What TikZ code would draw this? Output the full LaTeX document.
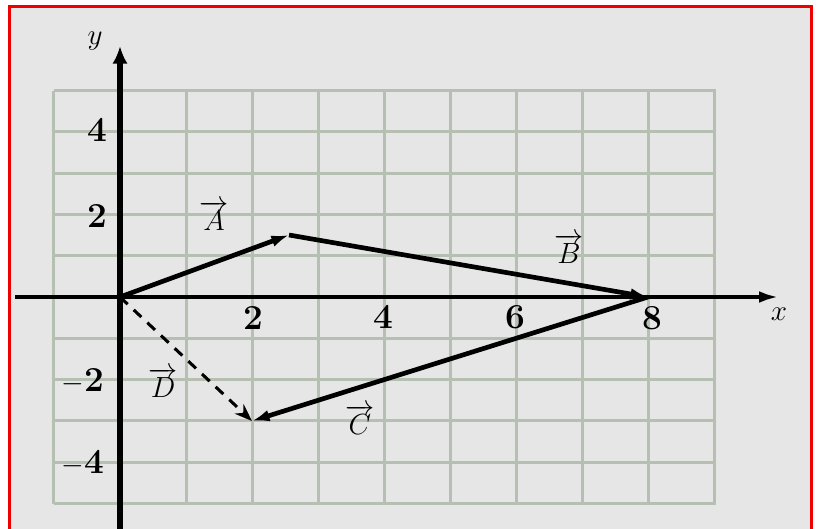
\documentclass[tikz,border=0pt]{standalone}
\usetikzlibrary{arrows.meta}
\definecolor{bgc}{HTML}{E6E6E6}
\definecolor{gridc}{HTML}{B5BFB2}
\definecolor{framec}{HTML}{EE0000}
\begin{document}
\begin{tikzpicture}[x=0.03cm,y=-0.03cm,
  gridline/.style={draw=gridc,line width=2.6pt},
  axisline/.style={draw=black},
  vecline/.style={draw=black,line width=4pt,-{Latex[length=15pt,width=10pt]}},
  dvec/.style={draw=black,line width=2.6pt,dash pattern=on 9pt off 7pt,-{Stealth[length=15pt,width=11pt]}},
  lbl/.style={inner sep=0pt,font=\fontsize{30}{34}\selectfont\bfseries},
  vlbl/.style={inner sep=0pt,font=\fontsize{30}{34}\selectfont}]
\useasboundingbox (0,0) rectangle (825,528);
% background and frame
\fill[white] (0,0) rectangle (825,528);
\fill[bgc] (8,5) rectangle (813,530);
\draw[framec,line width=2.6pt] (9.5,530) -- (9.5,6.5) -- (811.5,6.5) -- (811.5,530);
% grid
\foreach \i in {-1,...,9} {\draw[gridline] ({120+66.1*\i},90.5) -- ({120+66.1*\i},503.5);}
\foreach \j in {-5,...,5} {\draw[gridline] (54,{297-41.3*\j}) -- (716,{297-41.3*\j});}
% axes
\coordinate (xs) at (15,297);
\coordinate (xe) at (779,297);
\coordinate (ys) at (120,530);
\coordinate (ye) at (120,46);
\draw[axisline,line width=3.4pt,-{Latex[length=17pt,width=10pt]}] (xs) -- (xe);
\draw[axisline,line width=5pt,-{Latex[length=15pt,width=13pt]}] (ys) -- (ye);
% points
\coordinate (O) at (120,297);
\coordinate (P) at (289,235);
\coordinate (E) at (648,297);
\coordinate (F) at (252,421);
% vectors
\draw[vecline] (O) -- (P);
\draw[vecline] (P) -- (E);
\draw[vecline] (E) -- (F);
\draw[dvec] (O) -- (F);
% axis labels
\node[vlbl] (ylab) at (95,41) {$y$};
\node[vlbl] (xlab) at (779,314) {$x$};
\node[lbl] (y4) at (97,130) {4};
\node[lbl] (y2) at (97,216) {2};
\node[lbl] (ym2) at (83,381) {$\mathbf{-}$2};
\node[lbl] (ym4) at (83,463) {$\mathbf{-}$4};
\node[lbl] (x2) at (253,318) {2};
\node[lbl] (x4) at (383,317) {4};
\node[lbl] (x6) at (515,317) {6};
\node[lbl] (x8) at (652,318) {8};
% vector labels
\node[vlbl] (la) at (214,216) {$\overrightarrow{A}$};
\node[vlbl] (lb) at (569,249) {$\overrightarrow{B}$};
\node[vlbl] (lc) at (360,420) {$\overrightarrow{C}$};
\node[vlbl] (ld) at (163,383) {$\overrightarrow{D}$};
\end{tikzpicture}
\end{document}
